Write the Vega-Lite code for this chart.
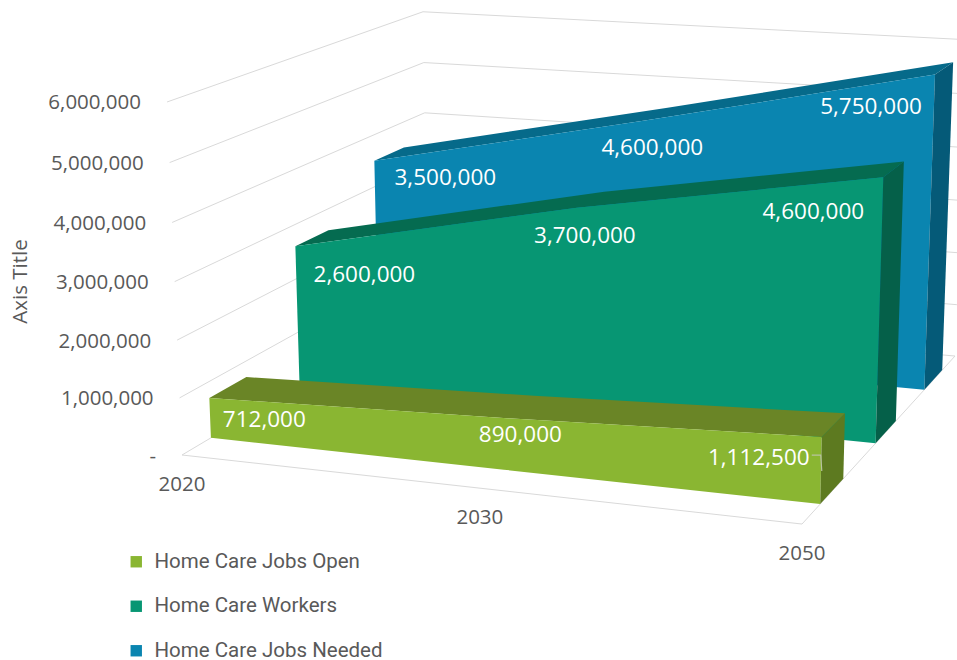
{
  "$schema": "https://vega.github.io/schema/vega-lite/v6.json",
  "width": 957,
  "height": 660,
  "padding": 0,
  "autosize": {"type": "none"},
  "background": "#ffffff",
  "config": {"view": {"stroke": null}},
  "datasets": {
    "jobs": [
      {"series": "Home Care Jobs Needed", "year": 2020, "value": 3500000},
      {"series": "Home Care Jobs Needed", "year": 2030, "value": 4600000},
      {"series": "Home Care Jobs Needed", "year": 2050, "value": 5750000},
      {"series": "Home Care Workers", "year": 2020, "value": 2600000},
      {"series": "Home Care Workers", "year": 2030, "value": 3700000},
      {"series": "Home Care Workers", "year": 2050, "value": 4600000},
      {"series": "Home Care Jobs Open", "year": 2020, "value": 712000},
      {"series": "Home Care Jobs Open", "year": 2030, "value": 890000},
      {"series": "Home Care Jobs Open", "year": 2050, "value": 1112500}
    ],
    "levels": [
      {"level": 0}, {"level": 1000000}, {"level": 2000000}, {"level": 3000000},
      {"level": 4000000}, {"level": 5000000}, {"level": 6000000}
    ],
    "years": [{"year": 2020}, {"year": 2030}, {"year": 2050}]
  },
  "encoding": {
    "x": {"field": "px", "type": "quantitative", "scale": {"domain": [0, 957], "nice": false, "zero": false}, "axis": null},
    "y": {
      "field": "py", "type": "quantitative",
      "scale": {"domain": [660, 0], "nice": false, "zero": false},
      "axis": {
        "title": "Axis Title", "labels": false, "ticks": false, "domain": false, "grid": false,
        "titleX": 20, "titleY": 281, "titleAngle": 270, "titleAlign": "center", "titleBaseline": "middle",
        "titleFont": "Open Sans", "titleFontSize": 20.5, "titleFontWeight": "normal", "titleColor": "#595959"
      }
    }
  },
  "layer": [
    {
      "description": "Value gridlines running along the left and back walls",
      "data": {"name": "levels"},
      "transform": [
        {"calculate": "[0,1,2]", "as": "stop"},
        {"flatten": ["stop"]},
        {"calculate": "datum.stop == 2 ? 1 : 0", "as": "u"},
        {"calculate": "datum.stop == 0 ? 0 : 1", "as": "d"},
        {"calculate": "datum.level / 6000000", "as": "h"},
        {"calculate": "1 - 0.07545*datum.u + 0.19838*datum.d - 0.035*datum.h", "as": "w"},
        {"calculate": "(182 + 559.5*datum.u + 330.9*datum.d - 20.8*datum.h) / datum.w", "as": "px"},
        {"calculate": "(455 + 29.5*datum.u - 84.7*datum.d - 356.6*datum.h) / datum.w", "as": "py"}
      ],
      "mark": {"type": "line", "stroke": "#d9d9d9", "strokeWidth": 1, "clip": true},
      "encoding": {"detail": {"field": "level"}, "order": {"field": "stop"}}
    },
    {
      "description": "Front and right edges of the floor",
      "data": {"name": "levels"},
      "transform": [
        {"filter": "datum.level == 0"},
        {"calculate": "[0,1,2]", "as": "stop"},
        {"flatten": ["stop"]},
        {"calculate": "datum.stop == 0 ? 0 : 1", "as": "u"},
        {"calculate": "datum.stop == 2 ? 1 : 0", "as": "d"},
        {"calculate": "1 - 0.07545*datum.u + 0.19838*datum.d", "as": "w"},
        {"calculate": "(182 + 559.5*datum.u + 330.9*datum.d) / datum.w", "as": "px"},
        {"calculate": "(455 + 29.5*datum.u - 84.7*datum.d) / datum.w", "as": "py"}
      ],
      "mark": {"type": "line", "stroke": "#d9d9d9", "strokeWidth": 1, "clip": true},
      "encoding": {"order": {"field": "stop"}}
    },
    {
      "description": "Area slabs, painted back to front: right side, roof, then front face of each series",
      "data": {"name": "jobs"},
      "transform": [
        {"calculate": "indexof([2020,2030,2050], datum.year) / 2", "as": "u"},
        {"calculate": "{'Home Care Jobs Open':0.1,'Home Care Workers':0.433,'Home Care Jobs Needed':0.767}[datum.series]", "as": "d1"},
        {"calculate": "['side','roof','front']", "as": "face"},
        {"flatten": ["face"]},
        {"filter": "datum.face != 'side' || datum.year == 2050"},
        {"calculate": "datum.face == 'side' ? [0,1,2,3] : [0,1]", "as": "edge"},
        {"flatten": ["edge"]},
        {"calculate": "datum.face == 'side' ? datum.edge : (datum.edge == 0 ? datum.u*2 : 5 - datum.u*2)", "as": "vertex"},
        {"calculate": "datum.face == 'front' ? datum.d1 : datum.face == 'roof' ? datum.d1 + datum.edge*0.1333 : datum.d1 + ((datum.edge == 1 || datum.edge == 2) ? 0.1333 : 0)", "as": "d"},
        {"calculate": "(datum.face == 'roof' || (datum.face == 'front' && datum.edge == 0) || (datum.face == 'side' && datum.edge < 2)) ? datum.value / 6000000 : 0", "as": "h"},
        {"calculate": "datum.face == 'front' ? datum.series : datum.series + ' ' + datum.face", "as": "paint"},
        {"calculate": "1 - 0.07545*datum.u + 0.19838*datum.d - 0.035*datum.h", "as": "w"},
        {"calculate": "(182 + 559.5*datum.u + 330.9*datum.d - 20.8*datum.h) / datum.w", "as": "px"},
        {"calculate": "(455 + 29.5*datum.u - 84.7*datum.d - 356.6*datum.h) / datum.w", "as": "py"}
      ],
      "mark": {"type": "line", "strokeWidth": 0, "clip": true},
      "encoding": {
        "order": {"field": "vertex"},
        "fill": {
          "field": "paint", "type": "nominal",
          "scale": {
            "domain": [
              "Home Care Jobs Open", "Home Care Workers", "Home Care Jobs Needed",
              "Home Care Jobs Open roof", "Home Care Jobs Open side",
              "Home Care Workers roof", "Home Care Workers side",
              "Home Care Jobs Needed roof", "Home Care Jobs Needed side"
            ],
            "range": [
              "#8ab632", "#079673", "#0a85b0",
              "#6a8526", "#5d7a20",
              "#056b50", "#056049",
              "#066a8a", "#055a78"
            ]
          },
          "legend": {
            "values": ["Home Care Jobs Open", "Home Care Workers", "Home Care Jobs Needed"],
            "orient": "none", "legendX": 126, "legendY": 551.5, "title": null,
            "symbolType": "square", "symbolSize": 130, "symbolStrokeWidth": 0,
            "labelFont": "Roboto", "labelFontSize": 20.5, "labelColor": "#595959",
            "labelOffset": 8, "rowPadding": 23.5, "labelLimit": 300
          }
        }
      }
    },
    {
      "description": "Value labels on the front faces",
      "data": {"name": "jobs"},
      "transform": [
        {"calculate": "indexof([2020,2030,2050], datum.year) / 2", "as": "u"},
        {"calculate": "{'Home Care Jobs Open':0.1,'Home Care Workers':0.433,'Home Care Jobs Needed':0.767}[datum.series]", "as": "d"},
        {"calculate": "datum.value / 6000000", "as": "h"},
        {"calculate": "1 - 0.07545*datum.u + 0.19838*datum.d - 0.035*datum.h", "as": "w"},
        {"calculate": "{'Home Care Jobs Open':[55,17,-63],'Home Care Workers':[69,8,-70],'Home Care Jobs Needed':[71,9,-64]}[datum.series][datum.u*2]", "as": "shiftX"},
        {"calculate": "{'Home Care Jobs Open':[22,17,21],'Home Care Workers':[29,28,35],'Home Care Jobs Needed':[17,27,32]}[datum.series][datum.u*2]", "as": "shiftY"},
        {"calculate": "(182 + 559.5*datum.u + 330.9*datum.d - 20.8*datum.h) / datum.w + datum.shiftX", "as": "px"},
        {"calculate": "(455 + 29.5*datum.u - 84.7*datum.d - 356.6*datum.h) / datum.w + datum.shiftY", "as": "py"}
      ],
      "mark": {"type": "text", "font": "Open Sans", "fontSize": 22.5, "color": "#ffffff", "align": "center", "baseline": "middle"},
      "encoding": {"text": {"field": "value", "type": "quantitative", "format": ","}}
    },
    {
      "description": "Short leader line beside the last label of the front series",
      "data": {"name": "jobs"},
      "transform": [
        {"filter": "datum.series == 'Home Care Jobs Open' && datum.year == 2050"},
        {"calculate": "[0,1,2]", "as": "stop"},
        {"flatten": ["stop"]},
        {"calculate": "0.1", "as": "d"},
        {"calculate": "datum.value / 6000000", "as": "h"},
        {"calculate": "0.92455 + 0.19838*datum.d - 0.035*datum.h", "as": "w"},
        {"calculate": "(741.5 + 330.9*datum.d - 20.8*datum.h) / datum.w + [-10,-1,0][datum.stop]", "as": "px"},
        {"calculate": "(484.5 - 84.7*datum.d - 356.6*datum.h) / datum.w + [18,18,34][datum.stop]", "as": "py"}
      ],
      "mark": {"type": "line", "stroke": "#b8c4a0", "strokeWidth": 1.2},
      "encoding": {"order": {"field": "stop"}}
    },
    {
      "description": "Value axis labels beside the front ends of the gridlines",
      "data": {"name": "levels"},
      "transform": [
        {"calculate": "datum.level / 6000000", "as": "h"},
        {"calculate": "1 - 0.035*datum.h", "as": "w"},
        {"calculate": "(182 - 20.8*datum.h) / datum.w", "as": "px"},
        {"calculate": "(455 - 356.6*datum.h) / datum.w", "as": "py"},
        {"calculate": "datum.level == 0 ? '-' : format(datum.level, ',')", "as": "tick"}
      ],
      "mark": {"type": "text", "font": "Open Sans", "fontSize": 20.5, "color": "#595959", "align": "right", "baseline": "middle", "dx": -26, "dy": 1.5},
      "encoding": {"text": {"field": "tick", "type": "nominal"}}
    },
    {
      "description": "Year labels under the front edge of the floor",
      "data": {"name": "years"},
      "transform": [
        {"calculate": "indexof([2020,2030,2050], datum.year) / 2", "as": "u"},
        {"calculate": "1 - 0.07545*datum.u", "as": "w"},
        {"calculate": "(182 + 559.5*datum.u) / datum.w", "as": "px"},
        {"calculate": "(455 + 29.5*datum.u) / datum.w", "as": "py"}
      ],
      "mark": {"type": "text", "font": "Open Sans", "fontSize": 20.5, "color": "#595959", "align": "center", "baseline": "middle", "dy": 30},
      "encoding": {"text": {"field": "year", "type": "nominal"}}
    }
  ]
}
